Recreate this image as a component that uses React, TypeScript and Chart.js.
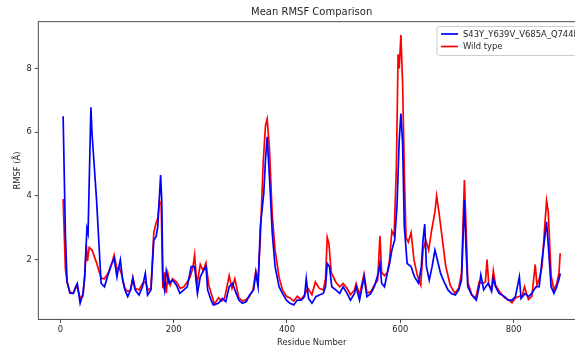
import React, { useEffect, useRef } from "react";
import { Chart, registerables } from "chart.js";

Chart.register(...registerables);

const chartTitle = "Mean RMSF Comparison";
const xAxisLabel = "Residue Number";
const yAxisLabel = "RMSF (Å)";
const seriesNames = ["S43Y_Y639V_V685A_Q744P", "Wild type"];
const seriesColors = ["#0000ff", "#ff0000"];
const xTicks = [0, 200, 400, 600, 800];
const yTicks = [2, 4, 6, 8];

const mutantResidues = [
  5, 9, 12, 17, 23, 27, 30, 35, 40, 43, 47, 49, 54, 56, 64, 72, 78, 85, 91, 95,
  100, 102, 106, 110, 114, 119, 124, 128, 132, 139, 145, 150, 154, 160, 165, 169,
  172, 177, 179, 181, 184, 187, 192, 198, 205, 211, 218, 224, 231, 237, 242, 247,
  253, 257, 260, 266, 270, 279, 286, 292, 298, 304, 308, 315, 321, 328, 334, 341,
  345, 349, 353, 359, 362, 365, 370, 374, 379, 386, 392, 399, 405, 412, 418, 425,
  431, 434, 438, 444, 451, 457, 464, 468, 471, 475, 479, 486, 493, 499, 506, 512,
  519, 522, 528, 536, 541, 548, 554, 561, 564, 567, 572, 577, 581, 585, 590, 594,
  598, 601, 604, 607, 612, 619, 625, 632, 637, 640, 643, 646, 651, 656, 661, 664,
  671, 677, 684, 690, 697, 703, 708, 713, 716, 719, 726, 734, 739, 742, 747, 755,
  761, 764, 768, 774, 784, 790, 797, 803, 810, 813, 820, 826, 832, 839, 845, 850,
  855, 858, 862, 866, 871, 876, 881, 882,
];
const mutantRmsf = [
  6.5, 2.8, 1.3, 0.95, 0.94, 1.15, 1.25, 0.63, 0.94, 1.46, 2.98, 2.83, 6.78, 5.96,
  3.87, 1.26, 1.15, 1.57, 1.88, 2.04, 1.46, 1.67, 1.99, 1.36, 1.05, 0.84, 1.05,
  1.41, 1.05, 0.89, 1.15, 1.57, 0.89, 1.05, 2.62, 2.72, 3.04, 4.66, 3.87, 1.4,
  1.05, 1.66, 1.26, 1.36, 1.2, 0.94, 1.05, 1.15, 1.78, 1.78, 0.94, 1.46, 1.67,
  1.78, 1.05, 0.73, 0.58, 0.63, 0.78, 0.68, 1.15, 1.26, 1.05, 0.73, 0.63, 0.68,
  0.89, 1.05, 1.57, 1.15, 3.04, 4.08, 5.13, 5.86, 4.29, 2.83, 1.78, 1.15, 0.94,
  0.73, 0.63, 0.58, 0.73, 0.73, 0.84, 1.41, 0.78, 0.63, 0.84, 0.89, 0.94, 1.15,
  1.88, 1.78, 1.15, 1.05, 0.94, 1.15, 0.94, 0.73, 0.94, 1.15, 0.73, 1.46, 0.84,
  0.94, 1.15, 1.57, 1.88, 1.26, 1.15, 1.57, 1.88, 2.3, 2.62, 3.66, 5.76, 6.59,
  5.65, 3.04, 1.88, 1.78, 1.46, 1.26, 1.78, 2.62, 3.12, 1.78, 1.36, 1.78, 2.3,
  2.09, 1.57, 1.31, 1.05, 0.94, 0.89, 1.05, 1.36, 3.87, 2.3, 1.15, 0.89, 0.73,
  1.15, 1.52, 1.05, 1.26, 1.0, 1.41, 1.15, 0.94, 0.84, 0.73, 0.73, 0.84, 1.46,
  0.78, 0.94, 0.84, 0.94, 1.15, 1.15, 1.99, 2.72, 3.19, 2.2, 1.15, 0.94, 1.15,
  1.46, 1.57,
];

const wildResidues = [
  5, 9, 12, 17, 23, 27, 30, 35, 40, 43, 46, 48, 51, 56, 64, 72, 78, 85, 92, 95,
  100, 104, 108, 114, 119, 124, 128, 132, 139, 145, 150, 155, 160, 165, 169, 172,
  175, 178, 181, 184, 187, 190, 194, 198, 205, 212, 218, 224, 229, 234, 237, 241,
  247, 252, 257, 262, 267, 272, 279, 285, 290, 298, 303, 308, 315, 322, 328, 334,
  340, 345, 349, 353, 358, 362, 365, 369, 374, 379, 386, 392, 399, 405, 412, 418,
  425, 431, 437, 444, 450, 457, 464, 468, 471, 474, 478, 486, 493, 499, 506, 512,
  519, 522, 528, 536, 541, 548, 554, 560, 564, 567, 572, 577, 581, 585, 589, 593,
  596, 598, 601, 604, 607, 610, 614, 619, 624, 630, 636, 640, 645, 650, 655, 661,
  664, 668, 673, 680, 688, 696, 703, 708, 713, 716, 719, 726, 733, 739, 745, 750,
  753, 756, 761, 764, 768, 775, 784, 790, 797, 803, 810, 815, 819, 826, 832, 838,
  841, 846, 850, 855, 858, 861, 866, 871, 876, 880, 882,
];
const wildRmsf = [
  3.9, 1.7, 1.3, 0.98, 0.95, 1.1, 1.15, 0.8, 0.85, 1.45, 2.45, 1.95, 2.38, 2.3,
  1.9, 1.42, 1.4, 1.6, 1.95, 2.15, 1.7, 1.75, 1.55, 1.1, 1.0, 1.05, 1.45, 1.1,
  1.05, 1.25, 1.3, 1.05, 1.1, 2.85, 3.15, 3.3, 3.85, 3.7, 1.1, 1.6, 0.95, 1.55,
  1.2, 1.4, 1.3, 1.1, 1.15, 1.3, 1.45, 1.75, 2.15, 1.2, 1.85, 1.65, 1.9, 1.2, 0.9,
  0.6, 0.8, 0.7, 0.8, 1.5, 1.1, 1.4, 0.8, 0.7, 0.75, 0.85, 1.05, 1.65, 1.35, 2.7,
  5.05, 6.2, 6.42, 5.5, 3.4, 2.3, 1.45, 1.05, 0.85, 0.8, 0.7, 0.85, 0.75, 0.9,
  1.1, 0.9, 1.3, 1.1, 1.05, 1.4, 2.7, 2.5, 1.6, 1.3, 1.15, 1.25, 1.1, 0.9, 1.05,
  1.25, 0.9, 1.55, 0.95, 1.0, 1.2, 1.35, 2.75, 1.6, 1.5, 1.6, 2.0, 2.9, 2.75, 4.9,
  8.45, 8.0, 9.05, 7.5, 4.8, 2.7, 2.55, 2.85, 2.0, 1.5, 1.2, 2.3, 2.6, 2.3, 2.9,
  3.5, 4.0, 3.5, 2.8, 1.8, 1.2, 0.95, 1.1, 1.6, 4.5, 3.0, 1.3, 0.9, 0.8, 1.3,
  1.25, 1.3, 2.0, 1.2, 1.1, 1.65, 1.2, 1.0, 0.8, 0.75, 0.65, 0.8, 0.85, 0.85,
  1.15, 0.75, 0.85, 1.85, 1.2, 1.45, 1.8, 3.1, 3.85, 3.5, 1.5, 1.05, 1.25, 1.6,
  2.2,
];

const FONT = "'DejaVu Sans', sans-serif";
const TEXT = "#262626";

const framePlugin = {
  id: "frame",
  afterDatasetsDraw(chart: any) {
    const { ctx, chartArea: a } = chart;
    ctx.save();
    ctx.strokeStyle = "#3a3a3a";
    ctx.lineWidth = 0.9;
    ctx.strokeRect(a.left, a.top, a.right - a.left, a.bottom - a.top);
    ctx.restore();
  },
};

const titlePlugin = {
  id: "mplTitle",
  afterDraw(chart: any) {
    const { ctx, chartArea: a } = chart;
    ctx.save();
    ctx.fillStyle = TEXT;
    ctx.font = `10px ${FONT}`;
    ctx.textAlign = "center";
    ctx.textBaseline = "middle";
    ctx.fillText(chartTitle, (a.left + a.right) / 2, 12.5);
    ctx.restore();
  },
};

const legendPlugin = {
  id: "mplLegend",
  afterDraw(chart: any) {
    const { ctx } = chart;
    const left = 437;
    const top = 26.5;
    const height = 29;
    const width = 160;
    ctx.save();
    ctx.fillStyle = "rgba(255,255,255,0.8)";
    ctx.strokeStyle = "#cccccc";
    ctx.lineWidth = 1;
    const r = 2.5;
    ctx.beginPath();
    ctx.moveTo(left + r, top);
    ctx.lineTo(left + width - r, top);
    ctx.arcTo(left + width, top, left + width, top + r, r);
    ctx.lineTo(left + width, top + height - r);
    ctx.arcTo(left + width, top + height, left + width - r, top + height, r);
    ctx.lineTo(left + r, top + height);
    ctx.arcTo(left, top + height, left, top + height - r, r);
    ctx.lineTo(left, top + r);
    ctx.arcTo(left, top, left + r, top, r);
    ctx.closePath();
    ctx.fill();
    ctx.stroke();
    const rows = [34, 46.5];
    ctx.font = `8.4px ${FONT}`;
    ctx.textBaseline = "middle";
    ctx.textAlign = "left";
    seriesNames.forEach((name, i) => {
      ctx.strokeStyle = seriesColors[i];
      ctx.lineWidth = 1.7;
      ctx.beginPath();
      ctx.moveTo(441, rows[i]);
      ctx.lineTo(458, rows[i]);
      ctx.stroke();
      ctx.fillStyle = TEXT;
      ctx.fillText(name, 463, rows[i] + 0.5);
    });
    ctx.restore();
  },
};

export default function App() {
  const canvasRef = useRef<HTMLCanvasElement | null>(null);

  useEffect(() => {
    const canvas = canvasRef.current;
    if (!canvas) return;
    const mutantData = mutantResidues.map((x, i) => ({ x, y: mutantRmsf[i] }));
    const wildData = wildResidues.map((x, i) => ({ x, y: wildRmsf[i] }));
    const tickFont = { family: FONT, size: 8.4 };
    const chart = new Chart(canvas, {
      type: "line",
      data: {
        datasets: [
          {
            label: seriesNames[0],
            data: mutantData,
            borderColor: seriesColors[0],
            backgroundColor: seriesColors[0],
            borderWidth: 1.7,
            pointRadius: 0,
            tension: 0,
          },
          {
            label: seriesNames[1],
            data: wildData,
            borderColor: seriesColors[1],
            backgroundColor: seriesColors[1],
            borderWidth: 1.7,
            pointRadius: 0,
            tension: 0,
          },
        ],
      },
      options: {
        responsive: false,
        animation: false,
        devicePixelRatio: 1,
        events: [],
        layout: { padding: { top: 21.7, right: 15, left: 0, bottom: 0 } },
        plugins: {
          legend: { display: false },
          title: { display: false },
          tooltip: { enabled: false },
        },
        scales: {
          x: {
            type: "linear",
            min: -38.8,
            max: 925.8,
            afterBuildTicks: (s: any) => {
              s.ticks = xTicks.map((v) => ({ value: v }));
            },
            afterFit: (s: any) => {
              s.height = 30.6;
            },
            grid: {
              drawOnChartArea: false,
              drawTicks: true,
              tickLength: 3.5,
              color: "#333333",
              lineWidth: 0.9,
            },
            border: { display: false },
            ticks: {
              font: tickFont,
              color: TEXT,
              padding: 2,
              maxRotation: 0,
              autoSkip: false,
            },
            title: {
              display: true,
              text: xAxisLabel,
              font: tickFont,
              color: TEXT,
              padding: { top: 0, bottom: 2.3 },
            },
          },
          y: {
            type: "linear",
            min: 0.125,
            max: 9.47,
            afterBuildTicks: (s: any) => {
              s.ticks = yTicks.map((v) => ({ value: v }));
            },
            afterFit: (s: any) => {
              s.width = 38.3;
            },
            grid: {
              drawOnChartArea: false,
              drawTicks: true,
              tickLength: 3.5,
              color: "#333333",
              lineWidth: 0.9,
            },
            border: { display: false },
            ticks: {
              font: tickFont,
              color: TEXT,
              padding: 3,
              autoSkip: false,
            },
            title: {
              display: true,
              text: yAxisLabel,
              font: tickFont,
              color: TEXT,
              padding: { top: 13, bottom: 0 },
            },
          },
        },
      } as any,
      plugins: [framePlugin, titlePlugin, legendPlugin],
    });
    return () => chart.destroy();
  }, []);

  return (
    <div
      style={{
        position: "fixed",
        left: 0,
        top: 0,
        width: 575,
        height: 347,
        overflow: "hidden",
        background: "#ffffff",
      }}
    >
      <canvas
        ref={canvasRef}
        width={600}
        height={350}
        style={{ width: 600, height: 350, display: "block" }}
      />
    </div>
  );
}
